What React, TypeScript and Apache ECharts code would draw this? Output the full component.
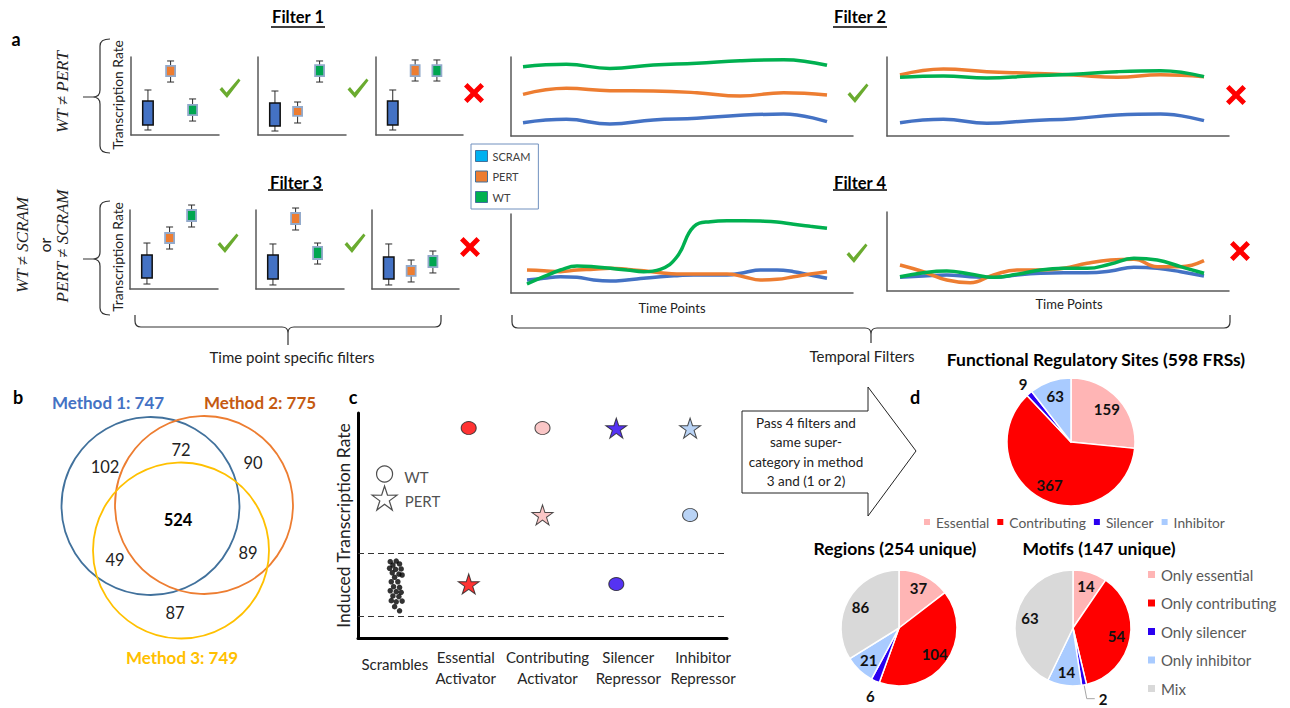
import React, { useEffect, useRef } from 'react';
import * as echarts from 'echarts';

const FONT = 'Lato, "Open Sans", sans-serif';
const SERIF = '"Liberation Serif", "DejaVu Serif", serif';

// ---------- Panel a : box plots (low, q1, q3, high), order SCRAM, PERT, WT ----------
const strainNames = ['SCRAM', 'PERT', 'WT'];
const boxColors = ['#4472C4', '#ED7D31', '#00A650'];
const lineColors = ['#4472C4', '#ED7D31', '#00B050'];
const legendSwatchColors = ['#00B0F0', '#ED7D31', '#00B050'];
const boxSlots = [0.77, 1.8, 2.8];

const filter1Boxes = [
  [[6.4, 12.8, 43.6, 57.7], [67.9, 75.6, 88.5, 94.9], [17.9, 25.6, 38.5, 46.2]],
  [[5.1, 11.5, 41.0, 56.4], [15.4, 24.4, 35.9, 42.3], [67.9, 75.6, 89.7, 94.9]],
  [[6.4, 12.8, 43.6, 57.7], [69.2, 75.6, 89.7, 96.2], [69.2, 75.6, 89.7, 96.2]],
];
const filter3Boxes = [
  [[6.3, 13.9, 43.0, 58.2], [50.6, 58.2, 70.9, 78.5], [78.5, 86.1, 100, 106.3]],
  [[5.1, 12.7, 43.0, 57.0], [74.7, 82.3, 96.2, 102.5], [31.6, 38.0, 53.2, 58.2]],
  [[5.1, 12.7, 40.5, 57.0], [8.9, 16.5, 29.1, 36.7], [20.3, 27.8, 41.8, 48.1]],
];

// ---------- Filter 2 / Filter 4 : transcription over time points ----------
const f2aScram = [16.9, 21.1, 15.2, 20.3, 22.4, 26.2, 27.8, 18.1];
const f2aPert = [52.7, 60.3, 57.3, 57.0, 54.8, 50.6, 54.8, 51.9];
const f2aWt = [87.7, 90.7, 85.6, 89.9, 92.0, 95.3, 96.6, 89.5];
const f2bScram = [16.9, 21.1, 16.1, 19.4, 21.9, 26.6, 27.8, 19.4];
const f2bPert = [77.2, 84.8, 81.4, 79.4, 77.2, 74.3, 77.6, 75.1];
const f2bWt = [74.3, 75.9, 73.4, 75.9, 78.1, 81.4, 82.7, 75.1];
const f4aScram = [16.5, 18.6, 20.6, 19.9, 16.5, 15.2, 16.5, 18.6, 20.6, 21.9, 22.8, 22.8, 22.8, 25.7, 29.1, 29.1, 27.0, 22.8, 18.6];
const f4aPert = [29.1, 28.2, 27.0, 29.1, 30.0, 31.3, 30.0, 28.2, 25.7, 24.1, 24.1, 24.1, 24.1, 20.6, 16.5, 17.3, 20.6, 24.1, 27.0];
const f4aWt = [11.4, 20.6, 29.1, 34.2, 33.3, 31.3, 29.1, 27.0, 30.0, 45.9, 83.9, 90.3, 91.5, 91.5, 91.1, 89.9, 87.0, 84.4, 81.9];
const f4bScram = [17.3, 19.0, 20.3, 18.1, 17.3, 20.3, 22.4, 23.2, 23.2, 25.3, 30.0, 28.7, 24.4, 19.0];
const f4bPert = [32.9, 24.4, 13.9, 10.5, 20.3, 26.6, 26.6, 28.7, 35.1, 39.2, 40.1, 30.8, 30.8, 38.4];
const f4bWt = [18.1, 23.2, 25.3, 21.5, 17.3, 21.1, 26.6, 28.7, 28.7, 34.2, 41.4, 39.2, 30.8, 22.4];

const filter1Pass = [true, true, false];
const filter2Pass = [true, false];
const filter3Pass = [true, true, false];
const filter4Pass = [true, false];

// ---------- Panel b : Venn ----------
const vennTitles = ['Method 1: 747', 'Method 2: 775', 'Method 3: 749'];
const vennCounts = [102, 72, 90, 524, 49, 89, 87];

// ---------- Panel c ----------
const cCategories = ['Scrambles', 'Essential\nActivator', 'Contributing\nActivator', 'Silencer\nRepressor', 'Inhibitor\nRepressor'];
const cColors = ['#000000', '#FF0000', '#F9B8B8', '#2A00F0', '#A8C8F2'];
const wtRates = [null, 93.3, 93.3, 24.0, 54.7];
const pertRates = [null, 24.0, 54.7, 93.3, 93.3];
const scrambleJitter = [-0.063, 0.018, -0.027, 0.063, -0.072, 0.009, 0.085, -0.036, 0.054, 0.098, -0.004, -0.049, 0.04, -0.018, 0.063, -0.063, 0.018, 0.085, -0.027, 0.054, -0.049, 0.018, 0.098, -0.004, 0.063];
const scrambleRates = [33.9, 34.2, 32.4, 32.9, 31.0, 30.5, 30.7, 29.0, 28.4, 28.0, 27.0, 25.0, 25.0, 22.8, 22.5, 21.0, 20.6, 20.3, 18.7, 18.4, 16.6, 16.1, 16.4, 13.9, 12.1];
const scrambleBand = [9.8, 37.8];

// ---------- Panel d ----------
const frsNames = ['Essential', 'Contributing', 'Silencer', 'Inhibitor'];
const frsCounts = [159, 367, 9, 63];
const groupNames = ['Only essential', 'Only contributing', 'Only silencer', 'Only inhibitor', 'Mix'];
const regionCounts = [37, 104, 6, 21, 86];
const motifCounts = [14, 54, 2, 14, 63];
const pieColors = ['#FFB5B5', '#FF0000', '#2A00F0', '#A9CBFF', '#D9D9D9'];

const starPath = 'path://M50,0 L61.2,34.6 L97.6,34.5 L68.1,55.9 L79.4,90.5 L50,69 L20.6,90.5 L31.9,55.9 L2.4,34.5 L38.8,34.6 Z';

echarts.graphic.registerShape('braceV', echarts.graphic.extendPath('M10,0 Q0,0 0,7 L0,51 Q0,58 -7,58 L-17,58 M-7,58 Q0,58 0,65 L0,107 Q0,114 10,114', {}));
echarts.graphic.registerShape('braceTP', echarts.graphic.extendPath('M135,315 L135,321 Q135,327 141,327 L282,327 Q288,327 288,333 L288,345 M288,333 Q288,327 294,327 L435,327 Q441,327 441,321 L441,315', {}));
echarts.graphic.registerShape('braceTemporal', echarts.graphic.extendPath('M512,315 L512,322 Q512,328 518,328 L865,328 Q871,328 871,334 L871,343 M871,334 Q871,328 877,328 L1224,328 Q1230,328 1230,322 L1230,315', {}));

function txt(text: string, x: number, y: number, size: number, o: any = {}) {
  const align = o.align || 'center';
  return {
    type: 'text', x, y, rotation: o.rotation || 0, z: 10,
    style: {
      text, fontSize: size, fontFamily: o.family || FONT, fontWeight: o.weight || 'normal',
      fontStyle: o.fontStyle || 'normal', fill: o.color || '#222', lineHeight: o.lineHeight,
      align, verticalAlign: 'middle', textAlign: align, textVerticalAlign: 'middle',
    },
  };
}
function check(x: number, y: number) {
  return { type: 'polygon', x, y, z: 10, shape: { points: [[-10.5, 1.5], [-8, -1], [-3.5, 4.5], [8.5, -9.5], [10.5, -7.5], [-3, 10]] }, style: { fill: '#6AAB2F' } };
}
function cross(x: number, y: number) {
  return { type: 'polygon', x, y, z: 10, shape: { points: [[-10, -6.5], [-6.5, -10], [0, -3.5], [6.5, -10], [10, -6.5], [3.5, 0], [10, 6.5], [6.5, 10], [0, 3.5], [-6.5, 10], [-10, 6.5], [-3.5, 0]] }, style: { fill: '#FF0000' } };
}
function mark(pass: boolean, x: number, y: number) { return pass ? check(x, y) : cross(x, y); }
function uline(x1: number, x2: number, y: number) {
  return { type: 'line', z: 10, shape: { x1, y1: y, x2, y2: y }, style: { stroke: '#000', lineWidth: 1.5 } };
}

const axisLine = (color = '#595959', width = 1.5) => ({ show: true, onZero: false, lineStyle: { color, width } });
function plainX(gridIndex: number, min: number, max: number) {
  return { type: 'value', gridIndex, min, max, axisLine: axisLine(), axisTick: { show: false }, axisLabel: { show: false }, splitLine: { show: false } };
}
function plainY(gridIndex: number, min: number, max: number) {
  return { type: 'value', gridIndex, min, max, axisLine: axisLine(), axisTick: { show: false }, axisLabel: { show: false }, splitLine: { show: false } };
}

function boxSeries(idx: number, boxes: number[][]) {
  return {
    type: 'custom', name: 'box' + idx, xAxisIndex: idx, yAxisIndex: idx, clip: false, silent: true,
    data: boxes.map((b, j) => [boxSlots[j], b[0], b[1], b[2], b[3], j]),
    renderItem: (params: any, api: any) => {
      const x = api.value(0);
      const ci = api.value(5);
      const lo = api.coord([x, api.value(1)]);
      const q1 = api.coord([x, api.value(2)]);
      const q3 = api.coord([x, api.value(3)]);
      const hi = api.coord([x, api.value(4)]);
      const w = ci === 0 ? 10.5 : 9;
      const ls = { stroke: '#2b2b2b', lineWidth: 1 };
      return {
        type: 'group',
        children: [
          { type: 'line', shape: { x1: lo[0], y1: lo[1], x2: hi[0], y2: hi[1] }, style: ls },
          { type: 'line', shape: { x1: lo[0] - 3.5, y1: lo[1], x2: lo[0] + 3.5, y2: lo[1] }, style: ls },
          { type: 'line', shape: { x1: hi[0] - 3.5, y1: hi[1], x2: hi[0] + 3.5, y2: hi[1] }, style: ls },
          {
            type: 'rect', shape: { x: q3[0] - w / 2, y: q3[1], width: w, height: q1[1] - q3[1] },
            style: { fill: boxColors[ci], stroke: ci === 0 ? '#111' : '#93AACB', lineWidth: ci === 0 ? 1.5 : 1.8 },
          },
        ],
      };
    },
  };
}

function lineSeries(idx: number, sets: number[][]) {
  return sets.map((vals, k) => ({
    type: 'line', name: strainNames[k], xAxisIndex: idx, yAxisIndex: idx, smooth: 0.45, showSymbol: false, symbol: 'none', silent: true,
    lineStyle: { color: lineColors[k], width: 3.5 }, itemStyle: { color: lineColors[k] },
    data: vals.map((v, i) => [i, v]),
  }));
}
// line panel extents: first/last point inset from the axis ends
function timeAxis(idx: number, n: number, leftInset: number, rightInset: number, width: number) {
  const step = (width - leftInset - rightInset) / (n - 1);
  return plainX(idx, -leftInset / step, n - 1 + rightInset / step);
}

function pieMain(center: number[], r: number, names: string[], counts: number[], colors: string[]) {
  return {
    type: 'pie', center, radius: [0, r], startAngle: 90, silent: true, avoidLabelOverlap: false,
    label: { show: false }, labelLine: { show: false },
    itemStyle: { borderColor: '#fff', borderWidth: 1.5 },
    data: names.map((n, i) => ({ name: n, value: counts[i], itemStyle: { color: colors[i] } })),
  };
}
function pieLabels(center: number[], r: number, names: string[], counts: number[], outside: any) {
  return {
    type: 'pie', center, radius: [r * 0.42, r], startAngle: 90, silent: true, avoidLabelOverlap: false,
    itemStyle: { color: 'rgba(0,0,0,0)', borderWidth: 0 },
    label: { show: true, position: 'inside', formatter: '{c}', fontFamily: FONT, fontWeight: 'bold', fontSize: 15, color: '#111' },
    labelLine: { show: false },
    data: names.map((n, i) => {
      const item: any = { name: n, value: counts[i] };
      if (outside[i]) { item.label = { position: 'outside', ...outside[i].label }; item.labelLine = outside[i].labelLine; }
      return item;
    }),
  };
}

// small label nudges for the category axis of panel c (left / right padding)
const cLabelPads = [[0, 0], [0, 6], [10, 0], [24, 0], [26, 0]];

export default function App() {
  const ref = useRef<HTMLDivElement>(null);
  useEffect(() => {
    document.body.style.margin = '0';
    const chart = echarts.init(ref.current!, null, { renderer: 'svg' });

    const grids = [
      { left: 131, top: 57, width: 88, height: 78 },
      { left: 258, top: 57, width: 88, height: 78 },
      { left: 376, top: 57, width: 87, height: 78 },
      { left: 130, top: 210, width: 88, height: 79 },
      { left: 256, top: 210, width: 88, height: 79 },
      { left: 372, top: 210, width: 87, height: 79 },
      { left: 511, top: 57, width: 342, height: 79 },
      { left: 887, top: 57, width: 342, height: 79 },
      { left: 511, top: 214, width: 342, height: 79 },
      { left: 887, top: 212, width: 342, height: 79 },
      { left: 358, top: 413, width: 369, height: 225 },
    ];

    const xAxis: any[] = [];
    const yAxis: any[] = [];
    for (let i = 0; i < 6; i++) { xAxis.push(plainX(i, 0, 4)); yAxis.push(plainY(i, 0, 100)); }
    xAxis.push(timeAxis(6, f2aWt.length, 12, 26, 342));
    xAxis.push(timeAxis(7, f2bWt.length, 13, 25, 342));
    xAxis.push(timeAxis(8, f4aWt.length, 16, 26, 342));
    xAxis.push(timeAxis(9, f4bWt.length, 13, 25, 342));
    for (let i = 6; i < 10; i++) yAxis.push(plainY(i, 0, 100));
    xAxis.push({
      type: 'category', gridIndex: 10, boundaryGap: true,
      data: cCategories.map((c, i) => ({
        value: c,
        textStyle: i === 0 ? { lineHeight: 36 } : { padding: [0, cLabelPads[i][1], 0, cLabelPads[i][0]] },
      })),
      axisLine: axisLine('#000', 3), axisTick: { show: false }, splitLine: { show: false },
      axisLabel: { margin: 8, fontSize: 15, lineHeight: 21, color: '#262626', fontFamily: FONT, interval: 0 },
    });
    xAxis.push({ type: 'value', gridIndex: 10, min: -0.5, max: 4.5, show: false });
    yAxis.push({
      type: 'value', gridIndex: 10, min: 0, max: 100, axisLine: axisLine('#000', 3), axisTick: { show: false },
      axisLabel: { show: false }, splitLine: { show: false },
      name: 'Induced Transcription Rate', nameLocation: 'middle', nameRotate: 90, nameGap: 6,
      nameTextStyle: { fontSize: 17.5, color: '#222', fontFamily: FONT },
    });

    const series: any[] = [];
    filter1Boxes.forEach((b, i) => series.push(boxSeries(i, b)));
    filter3Boxes.forEach((b, i) => series.push(boxSeries(i + 3, b)));
    series.push(...lineSeries(6, [f2aScram, f2aPert, f2aWt]));
    series.push(...lineSeries(7, [f2bScram, f2bPert, f2bWt]));
    series.push(...lineSeries(8, [f4aScram, f4aPert, f4aWt]));
    series.push(...lineSeries(9, [f4bScram, f4bPert, f4bWt]));

    // panel c
    series.push({
      type: 'scatter', name: 'Scrambles', xAxisIndex: 11, yAxisIndex: 10, silent: true, symbol: 'circle', symbolSize: 5.5,
      itemStyle: { color: '#000' },
      data: scrambleRates.map((v, i) => [scrambleJitter[i], v]),
      markLine: {
        silent: true, symbol: 'none', label: { show: false },
        lineStyle: { type: [6, 4], color: '#333', width: 1 },
        data: scrambleBand.map((v) => ({ yAxis: v })),
      },
    });
    series.push({
      type: 'scatter', name: 'WT rate', xAxisIndex: 11, yAxisIndex: 10, silent: true, symbol: 'circle', symbolSize: [15, 13],
      itemStyle: { borderColor: '#222', borderWidth: 1 },
      data: wtRates.map((v, i) => (v == null ? null : { value: [i, v], itemStyle: { color: cColors[i] } })).filter(Boolean),
    });
    series.push({
      type: 'scatter', name: 'PERT rate', xAxisIndex: 11, yAxisIndex: 10, silent: true, symbol: starPath, symbolSize: [21, 20],
      itemStyle: { borderColor: '#222', borderWidth: 1 },
      data: pertRates.map((v, i) => (v == null ? null : { value: [i, v], itemStyle: { color: cColors[i] } })).filter(Boolean),
    });
    series.push({
      type: 'scatter', name: 'c legend', xAxisIndex: 11, yAxisIndex: 10, silent: true,
      itemStyle: { color: '#fff', borderColor: '#222', borderWidth: 1.2 },
      label: { show: true, position: 'right', distance: 9, fontSize: 15, color: '#222', fontFamily: FONT },
      data: [
        { value: [-0.14, 72.9], symbol: 'circle', symbolSize: 16, label: { formatter: 'WT', offset: [2, 3] } },
        { value: [-0.14, 62.2], symbol: starPath, symbolSize: [25, 24], label: { formatter: 'PERT', offset: [-2, 3] } },
      ],
    });

    // panel d
    series.push(pieMain([1071, 442], 64, frsNames, frsCounts, pieColors));
    series.push(pieMain([899, 628], 58, groupNames, regionCounts, pieColors));
    series.push(pieMain([1073, 628], 58, groupNames, motifCounts, pieColors));
    series.push(pieLabels([1071, 442], 64, frsNames, frsCounts, { 2: { label: { distanceToLabelLine: -6 }, labelLine: { show: false, length: 12, length2: 0 } } }));
    series.push(pieLabels([899, 628], 58, groupNames, regionCounts, { 2: { label: { distanceToLabelLine: -6 }, labelLine: { show: false, length: 16, length2: 0 } } }));
    series.push(pieLabels([1073, 628], 58, groupNames, motifCounts, { 2: { label: { distanceToLabelLine: 4 }, labelLine: { show: true, length: 14, length2: 8, lineStyle: { color: '#A6A6A6', width: 1 } } } }));

    const graphic: any[] = [
      // panel letters
      txt('a', 16, 39, 18, { weight: 'bold', color: '#000' }),
      txt('b', 18, 397, 18, { weight: 'bold', color: '#000' }),
      txt('c', 353, 397, 18, { weight: 'bold', color: '#000' }),
      txt('d', 915, 397, 18, { weight: 'bold', color: '#000' }),
      // filter titles
      txt('Filter 1', 298, 17, 16.5, { weight: 'bold', color: '#000' }), uline(271, 325, 27),
      txt('Filter 2', 860, 17, 16.5, { weight: 'bold', color: '#000' }), uline(833, 887, 27),
      txt('Filter 3', 296, 183, 16.5, { weight: 'bold', color: '#000' }), uline(268, 323, 190),
      txt('Filter 4', 860, 183, 16.5, { weight: 'bold', color: '#000' }), uline(833, 887, 190),
      // row labels
      txt('WT ≠ PERT', 62, 92, 17, { rotation: Math.PI / 2, family: SERIF, fontStyle: 'italic' }),
      txt('WT ≠ SCRAM', 22, 245, 17, { rotation: Math.PI / 2, family: SERIF, fontStyle: 'italic' }),
      txt('or', 44, 245, 16, { rotation: Math.PI / 2 }),
      txt('PERT ≠ SCRAM', 62, 246, 17, { rotation: Math.PI / 2, family: SERIF, fontStyle: 'italic' }),
      txt('Transcription Rate', 117, 95, 13.8, { rotation: Math.PI / 2 }),
      txt('Transcription Rate', 117, 257, 13.8, { rotation: Math.PI / 2 }),
      { type: 'braceV', x: 100, y: 39, z: 10, style: { stroke: '#333', fill: 'none', lineWidth: 1.2 } },
      { type: 'braceV', x: 100, y: 201, z: 10, style: { stroke: '#333', fill: 'none', lineWidth: 1.2 } },
      { type: 'braceTP', x: 0, y: 0, z: 10, style: { stroke: '#333', fill: 'none', lineWidth: 1.2 } },
      { type: 'braceTemporal', x: 0, y: 0, z: 10, style: { stroke: '#333', fill: 'none', lineWidth: 1.2 } },
      txt('Time point specific filters', 292, 357, 15),
      txt('Temporal Filters', 862, 356, 15),
      txt('Time Points', 672, 308, 13),
      txt('Time Points', 1069, 304, 13),
      // pass / fail marks
      mark(filter1Pass[0], 230, 88), mark(filter1Pass[1], 358, 88), mark(filter1Pass[2], 474, 93),
      mark(filter2Pass[0], 858, 93), mark(filter2Pass[1], 1236, 95),
      mark(filter3Pass[0], 228, 243), mark(filter3Pass[1], 355, 243), mark(filter3Pass[2], 470, 247),
      mark(filter4Pass[0], 857, 253), mark(filter4Pass[1], 1240, 251),
      // Venn
      { type: 'circle', z: 5, shape: { cx: 150.5, cy: 506, r: 89 }, style: { fill: 'none', stroke: '#41719C', lineWidth: 1.8 } },
      { type: 'circle', z: 5, shape: { cx: 204, cy: 505, r: 89 }, style: { fill: 'none', stroke: '#ED7D31', lineWidth: 1.8 } },
      { type: 'circle', z: 5, shape: { cx: 181, cy: 550.5, r: 88 }, style: { fill: 'none', stroke: '#FFC000', lineWidth: 1.8 } },
      txt(vennTitles[0], 108, 402, 17, { weight: 'bold', color: '#4472C4' }),
      txt(vennTitles[1], 260, 402, 17, { weight: 'bold', color: '#C55A11' }),
      txt(vennTitles[2], 182, 657, 17, { weight: 'bold', color: '#FFC000' }),
      txt(String(vennCounts[0]), 105, 467, 16.5),
      txt(String(vennCounts[1]), 181, 450, 16.5),
      txt(String(vennCounts[2]), 253, 463, 16.5),
      txt(String(vennCounts[3]), 178, 520, 16.5, { weight: 'bold', color: '#000' }),
      txt(String(vennCounts[4]), 115, 560, 16.5),
      txt(String(vennCounts[5]), 248, 553, 16.5),
      txt(String(vennCounts[6]), 175, 613, 16.5),
      // arrow
      { type: 'polygon', z: 5, shape: { points: [[742, 411], [868, 411], [868, 387], [916, 451], [868, 516], [868, 493], [742, 493]] }, style: { fill: '#fff', stroke: '#222', lineWidth: 1 } },
      txt('Pass 4 filters and\nsame super-\ncategory in method\n3 and (1 or 2)', 806, 452, 13.5, { lineHeight: 19.5 }),
      // pie titles
      txt('Functional Regulatory Sites (598 FRSs)', 1096, 359, 17.5, { weight: 'bold', color: '#000' }),
      txt('Regions (254 unique)', 895, 548, 17.5, { weight: 'bold', color: '#000' }),
      txt('Motifs (147 unique)', 1099, 548, 17.5, { weight: 'bold', color: '#000' }),
    ];

    const legend = [
      {
        orient: 'vertical', left: 471, top: 144, selectedMode: false, icon: 'rect', itemWidth: 12, itemHeight: 11, itemGap: 8.5,
        padding: [6, 8, 6, 4], borderColor: '#7090BE', borderWidth: 1, backgroundColor: '#fff',
        textStyle: { fontSize: 11, color: '#404040', fontFamily: FONT },
        data: strainNames.map((n, i) => ({ name: n, itemStyle: { color: legendSwatchColors[i], borderColor: '#41719C', borderWidth: 1 } })),
      },
      {
        orient: 'horizontal', left: 922, top: 515, selectedMode: false, icon: 'rect', itemWidth: 8, itemHeight: 8, itemGap: 6, padding: 0,
        textStyle: { fontSize: 13.8, color: '#595959', fontFamily: FONT },
        data: frsNames.map((n, i) => ({ name: n, itemStyle: { color: pieColors[i] } })),
      },
      {
        orient: 'vertical', left: 1146, top: 567, selectedMode: false, icon: 'rect', itemWidth: 9, itemHeight: 9, itemGap: 13.5, padding: 0,
        textStyle: { fontSize: 15, color: '#595959', fontFamily: FONT },
        data: groupNames.map((n, i) => ({ name: n, itemStyle: { color: pieColors[i] } })),
      },
    ];

    chart.setOption({
      animation: false,
      backgroundColor: '#fff',
      textStyle: { fontFamily: FONT },
      grid: grids,
      xAxis,
      yAxis,
      legend,
      series,
      graphic: { elements: graphic },
    });
    return () => chart.dispose();
  }, []);
  return <div ref={ref} style={{ position: 'absolute', left: 0, top: 0, width: 1290, height: 708 }} />;
}
